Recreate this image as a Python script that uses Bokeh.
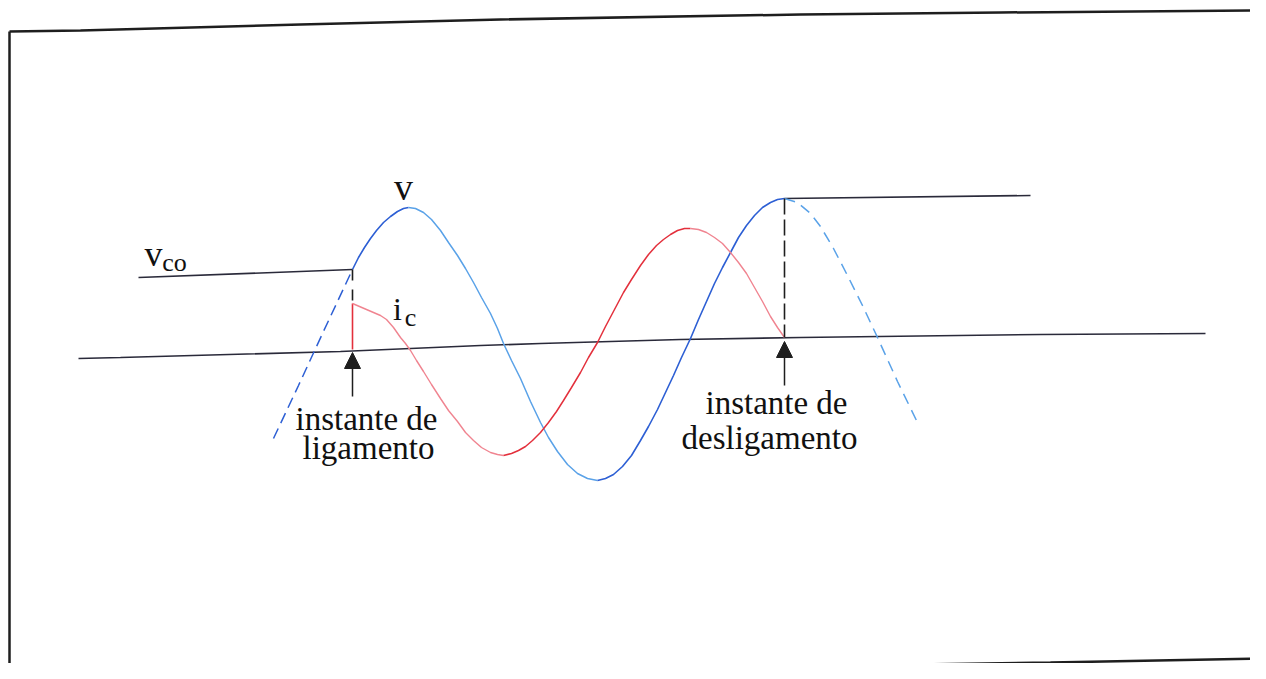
from bokeh.plotting import figure
from bokeh.models import Range1d, ColumnDataSource, Arrow, NormalHead
from bokeh.core.properties import value
from bokeh.embed import file_html
from bokeh.resources import INLINE

# ---- data (time axis t, amplitude y; y grows downward) ----
# page border of the scan
border_top_t = [9, 80, 300, 500, 800, 1000, 1266]
border_top_y = [31, 30, 24, 19, 14, 12, 10]
border_left_t = [9, 9]
border_left_y = [31, 679]
border_bot_t = [135, 250, 400, 600, 850, 1050, 1266]
border_bot_y = [679, 676, 672, 668, 665, 662, 658]

# zero axis
axis_t = [78, 120, 340, 480, 540, 680, 800, 1040, 1205]
axis_y = [358, 357, 351, 345, 343, 339, 337, 334, 333]

# capacitor voltage before switching on (v_co) and after switching off
vco_t = [138, 352]
vco_y = [277, 269]
vafter_t = [784, 1030]
vafter_y = [198, 195]

# voltage v (solid while the capacitor is connected)
v_rise1_t = [352, 358, 364, 370, 376, 383, 390, 397, 403, 408]
v_rise1_y = [269, 257, 247, 238, 230, 222, 216, 211, 208, 207]
v_fall_t = [408, 415, 423, 431, 440, 448, 457, 465, 473, 481, 490, 497, 503,
            511, 520, 530, 540, 548, 557, 567, 577, 587, 597]
v_fall_y = [207, 208, 212, 219, 230, 242, 255, 268, 282, 297, 313, 328, 343,
            360, 378, 401, 422, 437, 451, 464, 473, 478, 480]
v_rise2_t = [597, 605, 613, 622, 631, 640, 648, 657, 665, 673, 681, 690,
             698, 706, 714, 722, 730, 738, 746, 754, 762, 770, 777, 784]
v_rise2_y = [480, 478, 474, 466, 455, 440, 426, 409, 392, 375, 357, 338,
             319, 301, 283, 267, 252, 237, 225, 215, 207, 202, 199, 198]

# network voltage (dashed, capacitor not connected)
v_pre_t = [273, 298, 322, 352]
v_pre_y = [438, 385, 333, 269]
v_post_t = [784, 797, 810, 820, 833, 847, 862, 877, 897, 917]
v_post_y = [198, 202, 213, 226, 248, 275, 305, 337, 381, 422]

# capacitor current i_c
ic_step_t = [352, 352]
ic_step_y = [349, 303]
ic_fall_t = [352, 366, 380, 386, 393, 400, 405, 410, 416, 423, 431, 440, 448,
             457, 465, 473, 481, 490, 497, 503]
ic_fall_y = [303, 309, 315, 319, 327, 337, 343, 350, 360, 371, 384, 398, 410,
             421, 432, 440, 447, 452, 454, 455]
ic_rise_t = [503, 511, 518, 525, 532, 540, 548, 556, 563, 571, 580, 588, 597,
             605, 614, 623, 631, 640, 648, 656, 663, 670, 677, 684, 690]
ic_rise_y = [455, 453, 450, 446, 440, 432, 422, 411, 400, 387, 372, 357, 342,
             326, 309, 292, 279, 265, 254, 245, 239, 234, 230, 228, 228]
ic_fall2_t = [690, 698, 706, 714, 722, 730, 738, 746, 754, 762, 770, 777, 784]
ic_fall2_y = [228, 229, 232, 237, 243, 252, 262, 273, 287, 301, 316, 327, 337]

# switching instants
on_t = 352
off_t = 784
on_mark_y = [269, 303]
off_mark_y = [198, 337]

# labels
label_text = ["v", "v", "i", "instante de", "ligamento", "instante de", "desligamento"]
label_t = [403, 153, 397, 366, 368, 776, 769]
label_y = [186, 253, 308, 418, 447, 402, 437]
label_size = ["38px", "36px", "32px", "33px", "33px", "33px", "33px"]
sub_text = ["co", "c"]
sub_t = [174, 410]
sub_y = [262, 317]

# ---- figure ----
p = figure(width=1250, height=663, x_range=Range1d(0, 1250), y_range=Range1d(663, 0),
           output_backend="svg", toolbar_location=None, min_border=0,
           background_fill_color="white", border_fill_color="white")
p.axis.visible = False
p.grid.visible = False
p.outline_line_color = None

black = "#1e1e1e"
blue_dark = "#2d5fd4"
blue_light = "#5aa2e8"
red = "#e3303c"
pink = "#f08490"

# border of the scanned page
for xs, ys in [(border_top_t, border_top_y), (border_left_t, border_left_y), (border_bot_t, border_bot_y)]:
    p.line(xs, ys, line_color=black, line_width=2.5)

# axis and flat lines
p.line(axis_t, axis_y, line_color="#2a2a3a", line_width=1.6)
p.line(vco_t, vco_y, line_color="#2a2a3a", line_width=1.6)
p.line(vafter_t, vafter_y, line_color="#2a2a3a", line_width=1.6)

# voltage
p.line(v_rise1_t, v_rise1_y, line_color=blue_dark, line_width=1.6)
p.line(v_fall_t, v_fall_y, line_color=blue_light, line_width=1.5)
p.line(v_rise2_t, v_rise2_y, line_color=blue_dark, line_width=1.6)
p.line(v_pre_t, v_pre_y, line_color=blue_dark, line_width=1.5, line_dash="11 6")
p.line(v_post_t, v_post_y, line_color=blue_light, line_width=1.5, line_dash="11 7")

# current
p.line(ic_step_t, ic_step_y, line_color=red, line_width=1.6)
p.line(ic_fall_t, ic_fall_y, line_color=pink, line_width=1.4)
p.line(ic_rise_t, ic_rise_y, line_color=red, line_width=1.5)
p.line(ic_fall2_t, ic_fall2_y, line_color=pink, line_width=1.4)

# switching instant markers
p.line([on_t, on_t], on_mark_y, line_color=black, line_width=1.6, line_dash="11 9")
p.line([off_t, off_t], off_mark_y, line_color=black, line_width=1.6, line_dash="16 5")

p.add_layout(Arrow(end=NormalHead(size=16, fill_color=black, line_color=black),
                   x_start=on_t, y_start=396, x_end=on_t, y_end=352,
                   line_color=black, line_width=1.5))
p.add_layout(Arrow(end=NormalHead(size=16, fill_color=black, line_color=black),
                   x_start=off_t, y_start=385, x_end=off_t, y_end=341,
                   line_color=black, line_width=1.5))

# labels
src = ColumnDataSource(dict(x=label_t, y=label_y, text=label_text, size=label_size))
p.text(x="x", y="y", text="text", source=src, text_font=value("Liberation Serif"),
       text_font_size="size", text_align="center", text_baseline="alphabetic", text_color="#111111")
sub_src = ColumnDataSource(dict(x=sub_t, y=sub_y, text=sub_text))
p.text(x="x", y="y", text="text", source=sub_src, text_font=value("Liberation Serif"),
       text_font_size="26px", text_align="center", text_baseline="alphabetic", text_color="#111111")

open("out.html", "w").write(file_html(p, INLINE))
